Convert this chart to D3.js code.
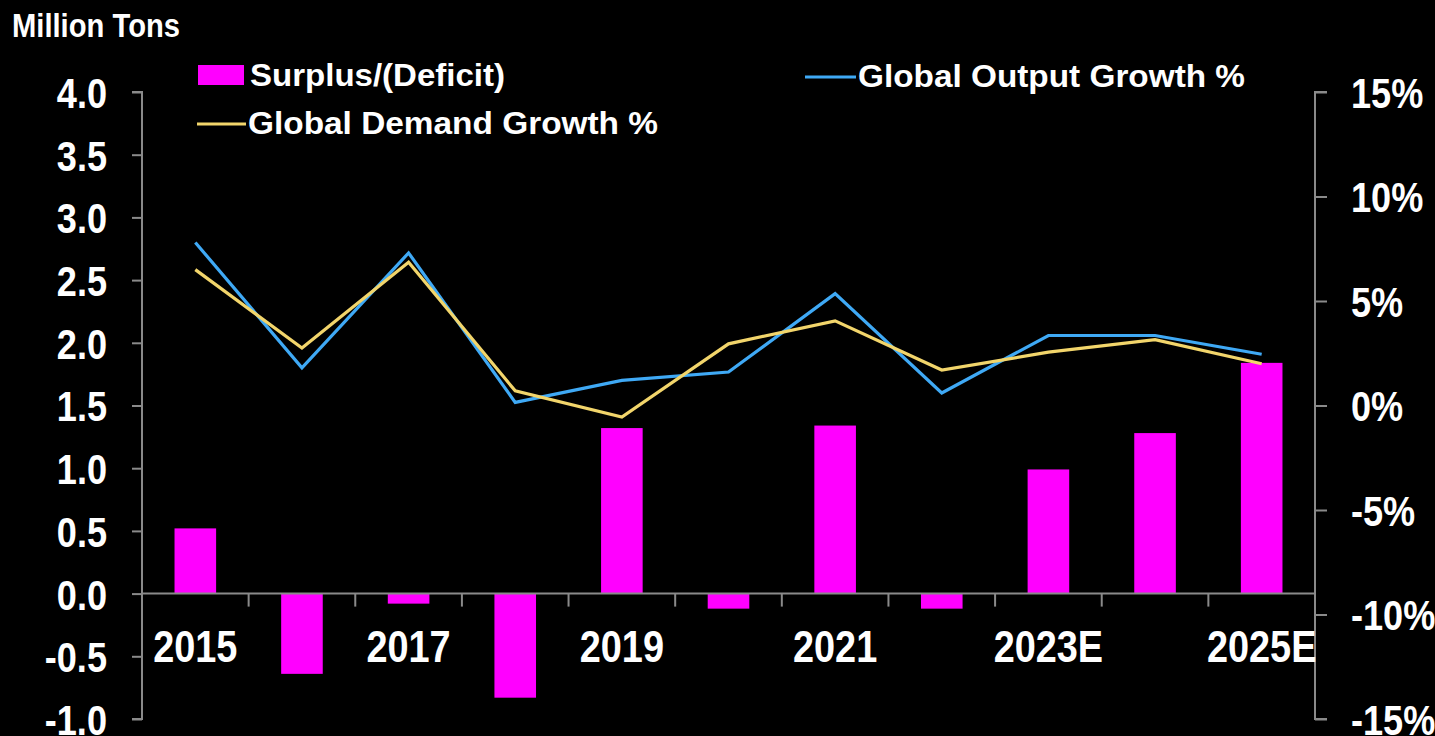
<!DOCTYPE html>
<html><head><meta charset="utf-8">
<script src="https://cdn.jsdelivr.net/npm/d3@7"></script>
<style>
html,body{margin:0;padding:0;background:#000;}
svg{display:block;}
</style></head>
<body>
<svg id="chart" width="1435" height="736"></svg>
<script>
const categories = ["2015","2016","2017","2018","2019","2020","2021","2022","2023E","2024E","2025E"];
const surplus = [0.52,-0.64,-0.08,-0.83,1.32,-0.12,1.34,-0.12,0.99,1.28,1.84];
const outputGrowth = [7.8,1.8,7.3,0.15,1.2,1.6,5.35,0.6,3.35,3.35,2.45];
const demandGrowth = [6.5,2.75,6.85,0.7,-0.55,2.95,4.05,1.7,2.55,3.15,2.0];
const leftTicks = [4.0,3.5,3.0,2.5,2.0,1.5,1.0,0.5,0.0,-0.5,-1.0];
const rightTicks = [15,10,5,0,-5,-10,-15];
const shownLabels = ["2015","2017","2019","2021","2023E","2025E"];

const svg = d3.select("#chart");
const pLeft = 142, pRight = 1315, pTop = 92, pBottom = 719;
const x = d3.scaleBand().domain(categories).range([pLeft, pRight]).paddingInner(0).paddingOuter(0);
const yL = d3.scaleLinear().domain([-1,4]).range([pBottom, pTop]);
const yR = d3.scaleLinear().domain([-15,15]).range([pBottom, pTop]);
const axisColor = "#8a8a8a";
const font = "'Liberation Sans',Arial,sans-serif";

function squeeze(sel, factor) {
  sel.each(function() {
    const w = this.getComputedTextLength();
    d3.select(this).attr("textLength", w * factor).attr("lengthAdjust", "spacingAndGlyphs");
  });
}
function fitWidth(sel, width) {
  sel.attr("textLength", width).attr("lengthAdjust", "spacingAndGlyphs");
}

// Bars
const bw = x.bandwidth()*0.39;
svg.append("g").selectAll("rect").data(categories).join("rect")
  .attr("x", d => x(d) + x.bandwidth()/2 - bw/2)
  .attr("width", bw)
  .attr("y", (d,i) => yL(Math.max(0, surplus[i])))
  .attr("height", (d,i) => Math.abs(yL(surplus[i]) - yL(0)))
  .attr("fill", "#ff00ff");

// Left axis
const gL = svg.append("g").attr("transform", `translate(${pLeft},0)`)
  .call(d3.axisLeft(yL).tickValues(leftTicks).tickSize(10).tickFormat(d3.format(".1f")));
gL.select(".domain").attr("stroke", axisColor).attr("stroke-width", 2).attr("d", `M-10,${yL(4)}H0V${yL(-1)}H-10`);
gL.selectAll(".tick line").attr("stroke", axisColor).attr("stroke-width", 2);
gL.selectAll(".tick text").attr("x", -35).attr("dy", "0.36em").attr("fill", "#fff")
  .style("font-family", font).style("font-weight", "bold").style("font-size", "43px")
  .text(d => d3.format(".1f")(d).replace("\u2212","-"))
  .call(squeeze, 0.84);

// Right axis
const gR = svg.append("g").attr("transform", `translate(${pRight},0)`)
  .call(d3.axisRight(yR).tickValues(rightTicks).tickSize(12).tickFormat(d => (d < 0 ? "-" : "") + Math.abs(d) + "%"));
gR.select(".domain").attr("stroke", axisColor).attr("stroke-width", 2).attr("d", `M12,${yR(15)}H0V${yR(-15)}H12`);
gR.selectAll(".tick line").attr("stroke", axisColor).attr("stroke-width", 2);
gR.selectAll(".tick text").attr("x", 36).attr("dy", "0.36em").attr("fill", "#fff")
  .style("font-family", font).style("font-weight", "bold").style("font-size", "43px")
  .call(squeeze, 0.84);

// Category axis at zero
const gX = svg.append("g").attr("transform", `translate(0,${yL(0)})`);
gX.append("line").attr("x1", pLeft).attr("x2", pRight).attr("y1", 0).attr("y2", 0)
  .attr("stroke", axisColor).attr("stroke-width", 2);
gX.selectAll("line.ct").data(categories.slice(1)).join("line").attr("class","ct")
  .attr("x1", d => x(d)).attr("x2", d => x(d)).attr("y1", 0).attr("y2", 13)
  .attr("stroke", axisColor).attr("stroke-width", 2);
gX.selectAll("text").data(shownLabels).join("text")
  .attr("x", d => x(d) + x.bandwidth()/2).attr("y", 68)
  .attr("text-anchor", "middle").attr("fill", "#fff")
  .style("font-family", font).style("font-weight", "bold").style("font-size", "44px")
  .text(d => d)
  .call(squeeze, 0.86);

// Lines
const lineGen = d3.line().x((d,i) => x(categories[i]) + x.bandwidth()/2).y(d => yR(d));
svg.append("path").datum(outputGrowth).attr("d", lineGen)
  .attr("fill", "none").attr("stroke", "#3fa9f5").attr("stroke-width", 3.2);
svg.append("path").datum(demandGrowth).attr("d", lineGen)
  .attr("fill", "none").attr("stroke", "#f2d56b").attr("stroke-width", 3.2);

// Title
svg.append("text").attr("x", 12).attr("y", 37).attr("fill", "#fff")
  .style("font-family", font).style("font-weight", "bold").style("font-size", "33px")
  .text("Million Tons").call(fitWidth, 168);

// Legend
const lg = svg.append("g");
lg.append("rect").attr("x", 198).attr("y", 65).attr("width", 46).attr("height", 20).attr("fill", "#ff00ff");
lg.append("text").attr("x", 250).attr("y", 86).attr("fill", "#fff")
  .style("font-family", font).style("font-weight", "bold").style("font-size", "31px")
  .text("Surplus/(Deficit)").call(fitWidth, 255);
lg.append("line").attr("x1", 197).attr("x2", 246).attr("y1", 124).attr("y2", 124)
  .attr("stroke", "#f2d56b").attr("stroke-width", 3.2);
lg.append("text").attr("x", 248).attr("y", 134).attr("fill", "#fff")
  .style("font-family", font).style("font-weight", "bold").style("font-size", "31px")
  .text("Global Demand Growth %").call(fitWidth, 410);
lg.append("line").attr("x1", 805).attr("x2", 856).attr("y1", 77).attr("y2", 77)
  .attr("stroke", "#3fa9f5").attr("stroke-width", 3.2);
lg.append("text").attr("x", 858).attr("y", 87).attr("fill", "#fff")
  .style("font-family", font).style("font-weight", "bold").style("font-size", "31px")
  .text("Global Output Growth %").call(fitWidth, 387);
</script>
</body></html>
